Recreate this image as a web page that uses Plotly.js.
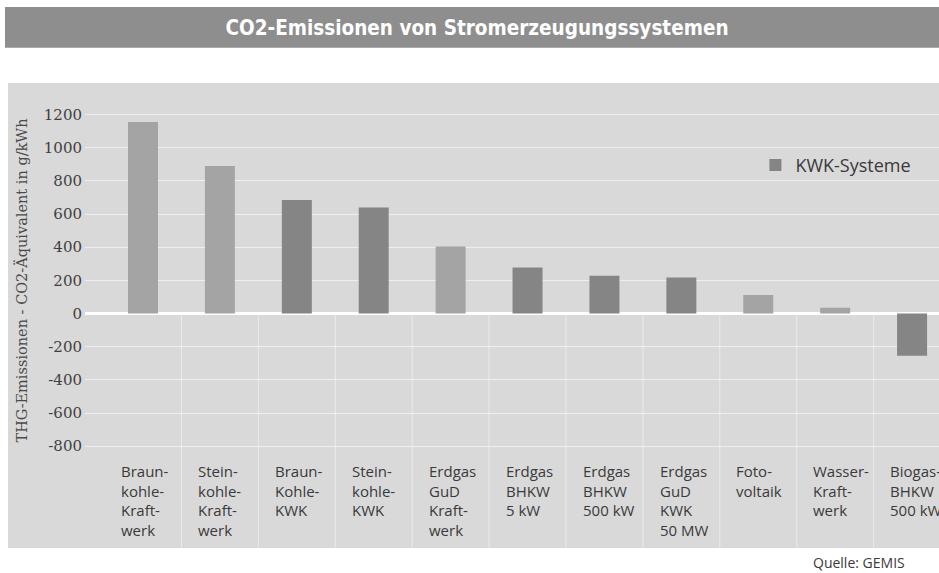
<!DOCTYPE html>
<html>
<head>
<meta charset="utf-8">
<script src="https://cdn.plot.ly/plotly-3.0.1.min.js"></script>
<style>html,body{margin:0;padding:0;background:#fff;}#chart{width:939px;height:573px;}</style>
</head>
<body>
<div id="chart"></div>
<script>
// ---- data ----
var categories = ['Braunkohle-Kraftwerk','Steinkohle-Kraftwerk','Braunkohle-KWK','Steinkohle-KWK',
  'Erdgas GuD Kraftwerk','Erdgas BHKW 5 kW','Erdgas BHKW 500 kW','Erdgas GuD KWK 50 MW',
  'Fotovoltaik','Wasser-Kraftwerk','Biogas-BHKW 500 kW'];
var categoryLabels = ['Braun-<br>kohle-<br>Kraft-<br>werk','Stein-<br>kohle-<br>Kraft-<br>werk','Braun-<br>Kohle-<br>KWK',
  'Stein-<br>kohle-<br>KWK','Erdgas<br>GuD<br>Kraft-<br>werk','Erdgas<br>BHKW<br>5 kW','Erdgas<br>BHKW<br>500 kW',
  'Erdgas<br>GuD<br>KWK<br>50 MW','Foto-<br>voltaik','Wasser-<br>Kraft-<br>werk','Biogas-<br>BHKW<br>500 kW'];
var emissions = [1155, 890, 685, 640, 405, 278, 228, 218, 112, 35, -255];
var isKWK = [false, false, true, true, false, true, true, true, false, false, true];
var yTicks = [-800, -600, -400, -200, 0, 200, 400, 600, 800, 1000, 1200];
var seriesName = 'KWK-Systeme';
var chartTitle = 'CO2-Emissionen von Stromerzeugungssystemen';
var yTitle = 'THG-Emissionen - CO2-Äquivalent in g/kWh';
var sourceText = 'Quelle: GEMIS';

// ---- traces ----
var kx = [], ky = [], ox = [], oy = [];
categories.forEach(function (c, i) {
  if (isKWK[i]) { kx.push(c); ky.push(emissions[i]); } else { ox.push(c); oy.push(emissions[i]); }
});
var traces = [
  { type: 'bar', x: ox, y: oy, width: 0.39, marker: { color: '#a4a4a4' }, showlegend: false, hoverinfo: 'x+y' },
  { type: 'bar', x: kx, y: ky, width: 0.39, name: seriesName, marker: { color: '#858585' }, showlegend: true, hoverinfo: 'x+y' }
];

// ---- layout helpers ----
var shapes = [
  { type: 'rect', xref: 'paper', yref: 'paper', x0: -0.0937, x1: 1.01, y0: 1.1043, y1: 1.1943,
    fillcolor: '#8e8e8e', line: { width: 0 }, layer: 'below' },
  { type: 'rect', xref: 'paper', yref: 'paper', x0: -0.0902, x1: 1.01, y0: 0, y1: 1.0265,
    fillcolor: '#d9d9d9', line: { width: 0 }, layer: 'below' }
];
for (var i = 0; i < categories.length - 1; i++) {
  shapes.push({ type: 'line', xref: 'x', yref: 'y', x0: i + 0.5, x1: i + 0.5, y0: 0, y1: -1414,
    line: { color: '#ebebeb', width: 1 }, layer: 'below' });
}
var annotations = categoryLabels.map(function (lab, i) {
  return { xref: 'x', yref: 'y', x: i - 0.31, y: -878, xanchor: 'left', yanchor: 'top', align: 'left',
    text: lab, showarrow: false, font: { family: 'Open Sans, sans-serif', size: 15, color: '#3a3a3a' } };
});
annotations.push({ xref: 'paper', yref: 'paper', x: -0.074, y: 0.59, textangle: -90, xanchor: 'center', yanchor: 'middle',
  text: yTitle, showarrow: false, font: { family: 'DejaVu Serif, serif', size: 14.5, color: '#4a4a4a' } });
annotations.push({ xref: 'paper', yref: 'paper', x: 0.962, y: -0.033, xanchor: 'right', yanchor: 'middle',
  text: sourceText, showarrow: false, font: { family: 'Open Sans, sans-serif', size: 14, color: '#3a3a3a' } });

var layout = {
  width: 939, height: 573,
  margin: { l: 85, r: 0, t: 95, b: 25 },
  paper_bgcolor: '#ffffff', plot_bgcolor: 'rgba(0,0,0,0)',
  barmode: 'overlay',
  title: { text: chartTitle, xref: 'container', yref: 'container', x: 0.508, y: 0.951, xanchor: 'center', yanchor: 'middle',
    font: { family: 'DejaVu Sans Condensed, DejaVu Sans, sans-serif', size: 20.5, color: '#ffffff', weight: 'bold' } },
  xaxis: { type: 'category', categoryorder: 'array', categoryarray: categories,
    range: [-0.754, 10.35], showticklabels: false, showgrid: false, zeroline: false,
    showline: false, ticks: '', fixedrange: true },
  yaxis: { range: [-1414, 1318], tickvals: yTicks, ticktext: yTicks.map(String), showgrid: true,
    gridcolor: '#efefef', gridwidth: 1, zeroline: true, zerolinecolor: '#ffffff', zerolinewidth: 3,
    showline: false, ticks: '', ticklabelstandoff: 2,
    tickfont: { family: 'DejaVu Serif, serif', size: 15, color: '#3f3f3f' } },
  legend: { x: 0.785, y: 0.845, xanchor: 'left', yanchor: 'middle', bgcolor: 'rgba(0,0,0,0)',
    font: { family: 'Open Sans, sans-serif', size: 18, color: '#3a3a3a' } },
  shapes: shapes,
  annotations: annotations,
  showlegend: true
};

Plotly.newPlot('chart', traces, layout, { displayModeBar: false, staticPlot: true });
</script>
</body>
</html>
